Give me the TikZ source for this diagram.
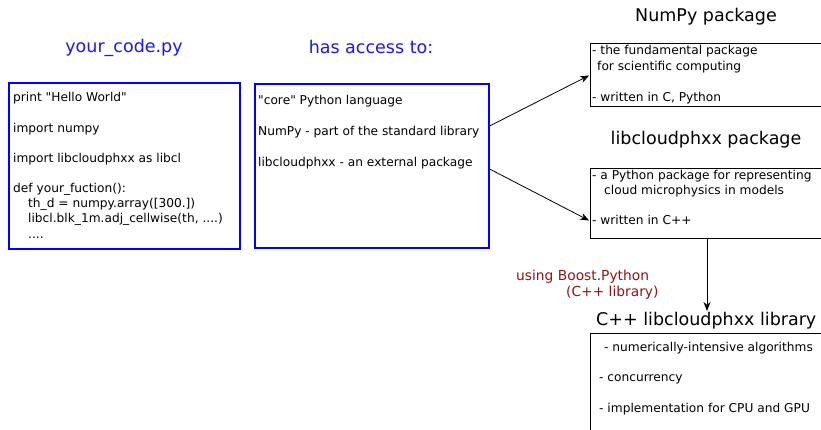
\documentclass[tikz,border=0pt]{standalone}
\usepackage{fontspec}
\setmainfont{DejaVu Sans}[Ligatures=TeXOff]
\usetikzlibrary{arrows.meta,calc}
\definecolor{titleblue}{RGB}{25,25,240}
\definecolor{darkred}{RGB}{145,20,20}
\begin{document}
\begin{tikzpicture}[x=1pt,y=-1pt,
  bluebox/.style={draw=blue,line width=1.6pt,anchor=north west,inner sep=0pt},
  blackbox/.style={draw=black,line width=1.2pt,anchor=north west,inner sep=0pt},
  body/.style={anchor=base west,inner sep=0pt,font=\fontsize{12.2}{14}\selectfont},
  btitle/.style={anchor=base,inner sep=0pt,text=titleblue,font=\fontsize{17.5}{20}\selectfont},
  ktitle/.style={anchor=base,inner sep=0pt,font=\fontsize{17.5}{20}\selectfont},
  rednote/.style={anchor=base west,inner sep=0pt,text=darkred,font=\fontsize{13.8}{16}\selectfont},
  arr/.style={-{Stealth[length=9pt,width=7pt]},line width=0.8pt,shorten >=1pt}]
\clip (0,0) rectangle (821,430);
\fill[white] (0,0) rectangle (821,430);

% titles
\node[btitle] (t1) at (124,53) {your\_code.py};
\node[btitle] (t2) at (371,54) {has access to:};
\node[ktitle] (t3) at (706,22) {NumPy package};
\node[ktitle] (t4) at (706,145) {libcloudphxx package};
\node[ktitle,anchor=base west] (t5) at (596,325) {C++ libcloudphxx library};

% boxes
\node[bluebox,minimum width=231pt,minimum height=166pt] (b1) at (8,82) {};
\node[bluebox,minimum width=234pt,minimum height=164pt] (b2) at (254,83) {};
\node[blackbox,minimum width=260pt,minimum height=63pt] (b3) at (590,43) {};
\node[blackbox,minimum width=260pt,minimum height=70pt] (b4) at (590,168) {};
\node[blackbox,minimum width=260pt,minimum height=120pt] (b5) at (590,333) {};

% box 1 text
\node[body] (c1) at (13,102) {print "Hello World"};
\node[body] (c2) at (13,133) {import numpy};
\node[body] (c3) at (13,163) {import libcloudphxx as libcl};
\node[body] (c4) at (13,193) {def your\_fuction():};
\node[body] (c5) at (28,208) {th\_d = numpy.array([300.])};
\node[body] (c6) at (28,223) {libcl.blk\_1m.adj\_cellwise(th, ....)};
\node[body] (c7) at (28,239) {....};

% box 2 text
\node[body] (a1) at (258,105) {"core" Python language};
\node[body] (a2) at (258,136) {NumPy - part of the standard library};
\node[body] (a3) at (258,167) {libcloudphxx - an external package};

% box 3 text
\node[body] (n1) at (592,55) {- the fundamental package};
\node[body] (n2) at (597,71) {for scientific computing};
\node[body] (n3) at (592,102) {- written in C, Python};

% box 4 text
\node[body] (l1) at (592,180) {- a Python package for representing};
\node[body] (l2) at (604,195) {cloud microphysics in models};
\node[body] (l3) at (592,225) {- written in C++};

% box 5 text
\node[body] (p1) at (604,351) {- numerically-intensive algorithms};
\node[body] (p2) at (599,381) {- concurrency};
\node[body] (p3) at (599,412) {- implementation for CPU and GPU};

% red note
\node[rednote] (r1) at (516,280) {using Boost.Python};
\node[rednote] (r2) at (566,296) {(C++ library)};

% connectors
\coordinate (s1) at ($(b2.north east)+(0,43)$);
\coordinate (e1) at ($(b3.north west)+(0,32)$);
\coordinate (s2) at ($(b2.north east)+(0,86)$);
\coordinate (e2) at ($(b4.north west)+(0,53)$);
\coordinate (v1) at (707,312);
\draw[arr] (s1) -- (e1);
\draw[arr] (s2) -- (e2);
\draw[arr] (b4.south -| v1) -- (v1);
\end{tikzpicture}
\end{document}
